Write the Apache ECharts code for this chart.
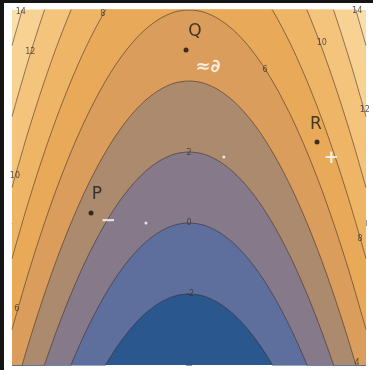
<!DOCTYPE html>
<html><head><meta charset="utf-8">
<script src="https://cdn.jsdelivr.net/npm/echarts@6/dist/echarts.min.js"></script>
<style>html,body{margin:0;padding:0;background:#111;}#c{width:373px;height:370px;}</style>
</head><body><div id="c"></div>
<script>
const xs = [-3,-2.75,-2.5,-2.25,-2,-1.75,-1.5,-1.25,-1,-0.75,-0.5,-0.25,0,0.25,0.5,0.75,1,1.25,1.5,1.75,2,2.25,2.5,2.75,3];
// contour levels (outermost first) and y-values of each contour line at xs
const levels = [14,12,10,8,6,4,2,0,-2];
const c14 = [5,6.44,7.75,8.94,10,10.94,11.75,12.44,13,13.44,13.75,13.94,14,13.94,13.75,13.44,13,12.44,11.75,10.94,10,8.94,7.75,6.44,5];
const c12 = [3,4.44,5.75,6.94,8,8.94,9.75,10.44,11,11.44,11.75,11.94,12,11.94,11.75,11.44,11,10.44,9.75,8.94,8,6.94,5.75,4.44,3];
const c10 = [1,2.44,3.75,4.94,6,6.94,7.75,8.44,9,9.44,9.75,9.94,10,9.94,9.75,9.44,9,8.44,7.75,6.94,6,4.94,3.75,2.44,1];
const c8  = [-1,0.44,1.75,2.94,4,4.94,5.75,6.44,7,7.44,7.75,7.94,8,7.94,7.75,7.44,7,6.44,5.75,4.94,4,2.94,1.75,0.44,-1];
const c6  = [-3,-1.56,-0.25,0.94,2,2.94,3.75,4.44,5,5.44,5.75,5.94,6,5.94,5.75,5.44,5,4.44,3.75,2.94,2,0.94,-0.25,-1.56,-3];
const c4  = [-5,-3.56,-2.25,-1.06,0,0.94,1.75,2.44,3,3.44,3.75,3.94,4,3.94,3.75,3.44,3,2.44,1.75,0.94,0,-1.06,-2.25,-3.56,-5];
const c2  = [-7,-5.56,-4.25,-3.06,-2,-1.06,-0.25,0.44,1,1.44,1.75,1.94,2,1.94,1.75,1.44,1,0.44,-0.25,-1.06,-2,-3.06,-4.25,-5.56,-7];
const c0  = [-9,-7.56,-6.25,-5.06,-4,-3.06,-2.25,-1.56,-1,-0.56,-0.25,-0.06,0,-0.06,-0.25,-0.56,-1,-1.56,-2.25,-3.06,-4,-5.06,-6.25,-7.56,-9];
const cm2 = [-11,-9.56,-8.25,-7.06,-6,-5.06,-4.25,-3.56,-3,-2.56,-2.25,-2.06,-2,-2.06,-2.25,-2.56,-3,-3.56,-4.25,-5.06,-6,-7.06,-8.25,-9.56,-11];
const contourYs = [c14,c12,c10,c8,c6,c4,c2,c0,cm2];
// fill colour of the band just below each contour
const bandColors = ['#f8d293','#f4c47c','#efb566','#e8a959','#db9d5c','#ac8a6d','#86798a','#5e6f9e','#29578e'];
const topBand = '#fbdfab';
// contour labels [x, y, text]
const contourLabels = [
  [-2.85,5.94,'14'],[2.85,5.96,'14'],[-2.69,4.83,'12'],[2.98,3.18,'12'],
  [-1.46,5.88,'8'],[2.25,5.08,'10'],[1.29,4.32,'6'],
  [-2.95,1.33,'10'],[-2.92,-2.43,'6'],[2.9,-0.44,'8'],[2.85,-3.95,'4'],
  [0,1.98,'2'],[0,0,'0'],[0.02,-2,'-2']
];
// handwritten annotations
const pointNames = ['Q','R','P'];
const pointXY = [[-0.05,4.87],[2.17,2.28],[-1.66,0.28]];
const letterXY = [[0.1,5.38],[2.15,2.76],[-1.56,0.79]];
const whiteMarks = [[0.32,4.39,'≈∂'],[2.41,1.83,'+'],[-1.37,0.06,'−']];
const whiteDots = [[0.59,1.86],[-0.73,0]];

const series = [];
levels.forEach((lv,i)=>{
  series.push({
    type:'line', name:String(lv), smooth:0.3, symbol:'none', clip:true,
    data: xs.map((x,j)=>[x, contourYs[i][j]]),
    lineStyle:{color:'rgba(50,38,35,0.6)', width:0.9},
    areaStyle:{color:bandColors[i], opacity:1, origin:'start'},
    z:2
  });
});
series.push({
  type:'scatter', symbolSize:0, z:5,
  data: contourLabels.map(d=>({value:[d[0],d[1]], label:{formatter:d[2]}})),
  label:{show:true, position:'inside', fontSize:8, color:'#3a3030', fontFamily:'DejaVu Sans'}
});
series.push({
  type:'scatter', symbolSize:5, z:6, itemStyle:{color:'#111'},
  data: pointXY.map(p=>p)
});
series.push({
  type:'scatter', symbolSize:0, z:6,
  data: letterXY.map((p,i)=>({value:p, label:{formatter:pointNames[i]}})),
  label:{show:true, position:'inside', fontSize:17, color:'#1a1a1a', fontFamily:'DejaVu Sans'}
});
series.push({
  type:'scatter', symbolSize:0, z:6,
  data: whiteMarks.map(p=>({value:[p[0],p[1]], label:{formatter:p[2]}})),
  label:{show:true, position:'inside', fontSize:18, fontWeight:'bold', color:'#ffffff', fontFamily:'DejaVu Sans'}
});
series.push({
  type:'scatter', symbolSize:3, z:6, itemStyle:{color:'#ffffff'},
  data: whiteDots
});

const chart = echarts.init(document.getElementById('c'), null, {renderer:'canvas'});
const axisCommon = {
  axisLabel:{show:false}, splitLine:{show:false},
  axisLine:{show:true, lineStyle:{color:'#bbbbbb', width:1}},
  axisTick:{show:true, inside:false, length:3, lineStyle:{color:'#999'}},
  minorTick:{show:true, splitNumber:5, length:2, lineStyle:{color:'#bbb'}}
};
chart.setOption({
  animation:false,
  backgroundColor:'#ffffff',
  grid:{left:12, top:10, right:7, bottom:5, show:true, backgroundColor:topBand, borderWidth:0},
  xAxis:[
    Object.assign({type:'value', min:-3, max:3, interval:1, position:'bottom'}, axisCommon),
    Object.assign({type:'value', min:-3, max:3, interval:1, position:'top'}, axisCommon)
  ],
  yAxis:[
    Object.assign({type:'value', min:-4, max:6, interval:2, position:'left'}, axisCommon, {minorTick:{show:true, splitNumber:4, length:2, lineStyle:{color:'#bbb'}}}),
    Object.assign({type:'value', min:-4, max:6, interval:2, position:'right'}, axisCommon, {minorTick:{show:true, splitNumber:4, length:2, lineStyle:{color:'#bbb'}}})
  ],
  graphic:[
    {type:'rect', shape:{x:0,y:0,width:4,height:370}, style:{fill:'#151515'}, z:100},
    {type:'rect', shape:{x:0,y:0,width:373,height:3}, style:{fill:'#151515'}, z:100}
  ],
  series: series
});
</script></body></html>
